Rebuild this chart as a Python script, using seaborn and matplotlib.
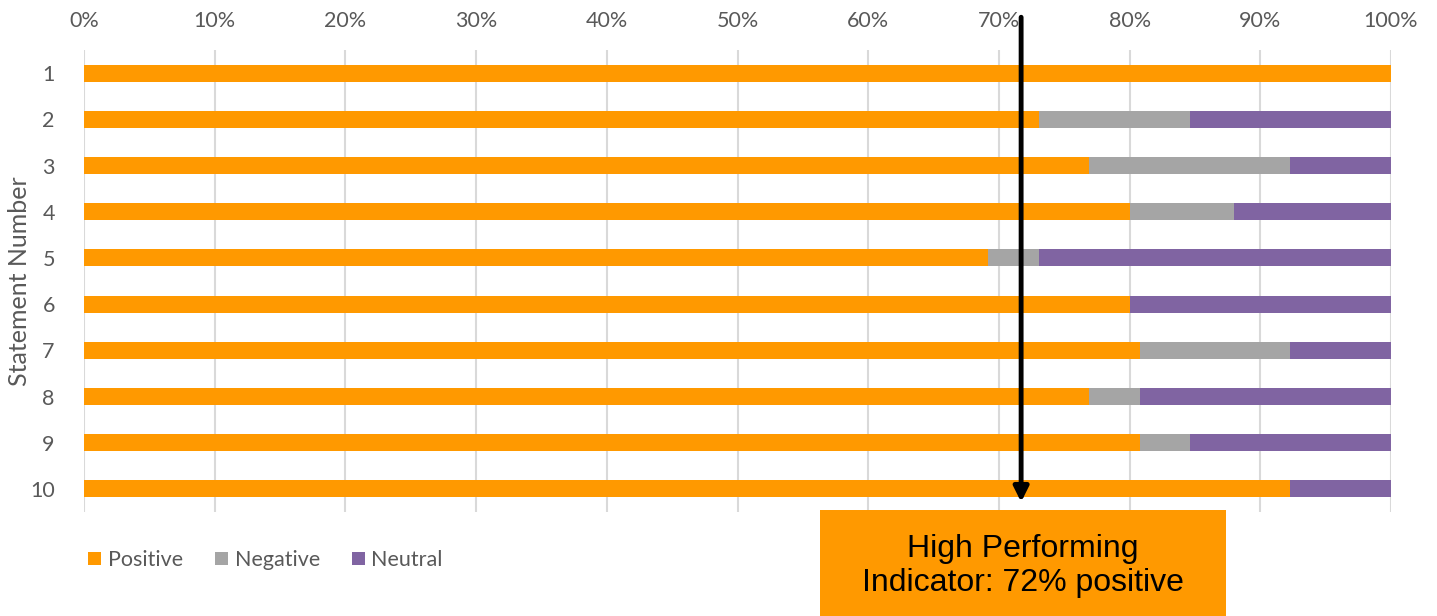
import numpy as np
import pandas as pd
import matplotlib.pyplot as plt
import matplotlib as mpl
from matplotlib.patches import Patch, Rectangle
import seaborn as sns

# data (percent of answers)
statements = ['1', '2', '3', '4', '5', '6', '7', '8', '9', '10']
positive = [100.0, 73.1, 76.9, 80.0, 69.2, 80.0, 80.8, 76.9, 80.8, 92.3]
negative = [0.0, 11.5, 15.4, 8.0, 3.9, 0.0, 11.5, 3.9, 3.8, 0.0]
neutral = [0.0, 15.4, 7.7, 12.0, 26.9, 20.0, 7.7, 19.2, 15.4, 7.7]
threshold = 72

series = ['Positive', 'Negative', 'Neutral']
colors = {'Positive': '#FF9900', 'Negative': '#A5A5A5', 'Neutral': '#8064A2'}

df = pd.DataFrame({'statement': statements, 'Positive': positive,
                   'Negative': negative, 'Neutral': neutral})
# cumulative ends for stacking
df['Negative_end'] = df['Positive'] + df['Negative']
df['Neutral_end'] = df['Negative_end'] + df['Neutral']

sns.set_theme(style='white')
plt.rcParams['font.family'] = ['Lato', 'DejaVu Sans']
txt = '#595959'
fs = 15.5

fig = plt.figure(figsize=(14.37, 6.16), dpi=100)
ax = fig.add_axes([84 / 1437, 1 - 512 / 616, (1391 - 84) / 1437, (512 - 50) / 616])

# back to front so the shorter stacks cover the longer ones
for col, name in [('Neutral_end', 'Neutral'), ('Negative_end', 'Negative'),
                  ('Positive', 'Positive')]:
    sns.barplot(data=df, x=col, y='statement', order=statements, orient='h',
                color=colors[name], width=0.37, ax=ax, saturation=1,
                edgecolor='none', linewidth=0)

ax.set_xlim(0, 100)
ax.set_ylim(9.5, -0.5)
ax.set_xticks(np.arange(0, 101, 10))
ax.set_xticklabels([f'{v}%' for v in range(0, 101, 10)])
ax.xaxis.tick_top()
ax.grid(axis='x', color='#D9D9D9', linewidth=1.5)
ax.set_axisbelow(True)
for s in ax.spines.values():
    s.set_visible(False)
ax.tick_params(axis='both', length=0, labelsize=fs, labelcolor=txt)
ax.tick_params(axis='x', pad=14)
ax.tick_params(axis='y', pad=21)
ax.set_xlabel('')
ax.set_ylabel('Statement Number', fontsize=18, color=txt)
ax.yaxis.set_label_coords(-53 / 1307, 0.5)

# threshold arrow
ax.annotate('', xy=(threshold - 0.3, 0.185), xycoords=('data', 'figure fraction'),
            xytext=(threshold - 0.3, 0.972), textcoords=('data', 'figure fraction'),
            arrowprops=dict(arrowstyle='-|>', color='black', lw=3.5,
                            mutation_scale=22, shrinkA=0, shrinkB=0))

# callout box
fig.patches.append(Rectangle((820 / 1437, 0), (1226 - 820) / 1437, (616 - 510) / 616,
                             transform=fig.transFigure, facecolor='#FF9900',
                             edgecolor='none', zorder=5))
fig.text(1023 / 1437, 1 - 566 / 616, 'High Performing\nIndicator: 72% positive',
         ha='center', va='center', fontsize=23, family=['Liberation Sans', 'DejaVu Sans'],
         linespacing=1.2, color='black', zorder=6)

handles = [Patch(facecolor=colors[n], edgecolor='none', label=n) for n in series]
fig.legend(handles=handles, loc='center left', bbox_to_anchor=(69 / 1437, 1 - 560 / 616),
           ncol=3, frameon=False, fontsize=fs, handlelength=0.6, handleheight=0.6,
           handletextpad=0.3, columnspacing=1.5, labelcolor=txt)

fig.savefig('out.png', dpi=100)
